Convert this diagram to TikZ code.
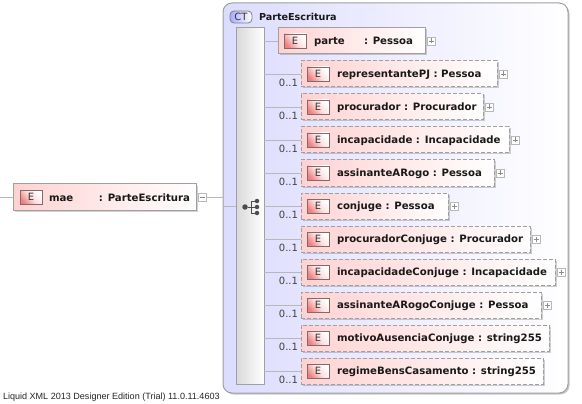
\documentclass[tikz,border=0pt]{standalone}
\usepackage{fontspec}
\setmainfont{DejaVu Sans}
\newfontfamily\footfont{Liberation Sans}
\usetikzlibrary{positioning,shadows}
\definecolor{boxPink}{HTML}{FFD2D2}
\definecolor{boxEdge}{HTML}{A0A0A0}
\definecolor{badgeRed}{HTML}{F08080}
\definecolor{badgeEdge}{HTML}{806A6A}
\definecolor{ctBlue}{HTML}{DCDCFF}
\definecolor{lineGrey}{HTML}{B8B8B8}
\begin{document}
\begin{tikzpicture}[x=1pt,y=-1pt,inner sep=0pt,outer sep=0pt,
elem/.style={draw=boxEdge,line width=1pt,left color=boxPink,right color=white,minimum height=26pt,anchor=north west,drop shadow={shadow xshift=1.5pt,shadow yshift=-1.5pt,fill=black,opacity=.18}},
optbox/.style={elem,dashed,dash pattern=on 4pt off 2pt},
badge/.style={draw=badgeEdge,line width=.9pt,top color=white,bottom color=badgeRed,middle color=badgeRed!25,shading angle=-50,minimum width=22pt,minimum height=14pt,font=\fontsize{10}{10}\selectfont,text=black!80},
elemtext/.style={font=\bfseries\fontsize{10.15}{12}\selectfont,text=black!90,anchor=west,yshift=-1pt},
mult/.style={font=\fontsize{10}{10}\selectfont,text=black!75,anchor=south east},
conn/.style={draw=lineGrey,line width=.8pt},
toggle/.style={draw=lineGrey,line width=.8pt,fill=white,minimum width=8pt,minimum height=8pt,right=2.5pt of #1.east},
plusbox/.style={toggle=#1,path picture={\draw[black!45,line width=.7pt] ([xshift=-2.5pt]path picture bounding box.center)--([xshift=2.5pt]path picture bounding box.center) ([yshift=-2.5pt]path picture bounding box.center)--([yshift=2.5pt]path picture bounding box.center);}},
minusbox/.style={toggle=#1,path picture={\draw[black!45,line width=.7pt] ([xshift=-2.5pt]path picture bounding box.center)--([xshift=2.5pt]path picture bounding box.center);}},
dot/.style={circle,fill=black!70,minimum size=4.5pt}]
\useasboundingbox (0,0) rectangle (582,404);
% complex type frame
\node[draw=boxEdge,line width=1pt,rounded corners=9pt,left color=ctBlue,right color=white,minimum width=345pt,minimum height=390pt,anchor=north west,drop shadow={shadow xshift=1.5pt,shadow yshift=-1.5pt,fill=black,opacity=.22}] (ct) at (223,3) {};
\node[draw=black!50,line width=.8pt,rounded corners=4pt,left color=ctBlue!30!blue!45,right color=white,minimum width=22pt,minimum height=12pt,font=\fontsize{10}{10}\selectfont,text=black!80] (ctBadge) at (241,17) {CT};
\node[elemtext,font=\bfseries\fontsize{9.6}{12}\selectfont,yshift=1pt] (ctName) at (259,17) {ParteEscritura};
\node[draw=boxEdge,line width=1pt,left color=black!15,right color=white,minimum width=28pt,minimum height=356pt,anchor=north west,drop shadow={shadow xshift=1pt,shadow yshift=-1pt,fill=black,opacity=.2}] (spine) at (236,28) {};
% root element
\node[elem,minimum width=183pt] (mae) at (13,184) {};
\node[badge,right=7pt of mae.west] (maeE) {E};
\node[elemtext,right=7pt of maeE] (maeName) {\makebox[50pt][l]{mae}: ParteEscritura};
\node[minusbox=mae] (maeToggle) {};
% child elements
\node[elem,minimum width=147pt] (parte) at (278,28) {};
\node[optbox,minimum width=196pt] (rep) at (301,61) {};
\node[optbox,minimum width=182pt,below right=7pt and 0pt of rep.south west] (proc) {};
\node[optbox,minimum width=208pt,below right=7pt and 0pt of proc.south west] (incap) {};
\node[optbox,minimum width=193pt,below right=7pt and 0pt of incap.south west] (rogo) {};
\node[optbox,minimum width=147pt,below right=7pt and 0pt of rogo.south west] (conj) {};
\node[optbox,minimum width=229pt,below right=7pt and 0pt of conj.south west] (procConj) {};
\node[optbox,minimum width=254pt,below right=7pt and 0pt of procConj.south west] (incapConj) {};
\node[optbox,minimum width=240pt,below right=7pt and 0pt of incapConj.south west] (rogoConj) {};
\node[optbox,minimum width=248pt,below right=7pt and 0pt of rogoConj.south west] (motivo) {};
\node[optbox,minimum width=242pt,below right=7pt and 0pt of motivo.south west] (regime) {};
% badges and names
\node[badge,right=6pt of parte.west] (parteE) {E};
\node[elemtext,right=8pt of parteE] (parteName) {\makebox[50pt][l]{parte}: Pessoa};
\node[badge,right=6pt of rep.west] (repE) {E};
\node[elemtext,right=8pt of repE] (repName) {representantePJ : Pessoa};
\node[badge,right=6pt of proc.west] (procE) {E};
\node[elemtext,right=8pt of procE] (procName) {procurador : Procurador};
\node[badge,right=6pt of incap.west] (incapE) {E};
\node[elemtext,right=8pt of incapE] (incapName) {incapacidade : Incapacidade};
\node[badge,right=6pt of rogo.west] (rogoE) {E};
\node[elemtext,right=8pt of rogoE] (rogoName) {assinanteARogo : Pessoa};
\node[badge,right=6pt of conj.west] (conjE) {E};
\node[elemtext,right=8pt of conjE] (conjName) {conjuge : Pessoa};
\node[badge,right=6pt of procConj.west] (procConjE) {E};
\node[elemtext,right=8pt of procConjE] (procConjName) {procuradorConjuge : Procurador};
\node[badge,right=6pt of incapConj.west] (incapConjE) {E};
\node[elemtext,right=8pt of incapConjE] (incapConjName) {incapacidadeConjuge : Incapacidade};
\node[badge,right=6pt of rogoConj.west] (rogoConjE) {E};
\node[elemtext,right=8pt of rogoConjE] (rogoConjName) {assinanteARogoConjuge : Pessoa};
\node[badge,right=6pt of motivo.west] (motivoE) {E};
\node[elemtext,right=8pt of motivoE] (motivoName) {motivoAusenciaConjuge : string255};
\node[badge,right=6pt of regime.west] (regimeE) {E};
\node[elemtext,right=8pt of regimeE] (regimeName) {regimeBensCasamento : string255};
% expand boxes
\node[plusbox=parte] (parteToggle) {};
\node[plusbox=rep] (repToggle) {};
\node[plusbox=proc] (procToggle) {};
\node[plusbox=incap] (incapToggle) {};
\node[plusbox=rogo] (rogoToggle) {};
\node[plusbox=conj] (conjToggle) {};
\node[plusbox=procConj] (procConjToggle) {};
\node[plusbox=incapConj] (incapConjToggle) {};
\node[plusbox=rogoConj] (rogoConjToggle) {};
% occurrence labels
\node[mult] (repMult) at ([xshift=-3pt,yshift=.5pt]rep.south west) {0..1};
\node[mult] (procMult) at ([xshift=-3pt,yshift=.5pt]proc.south west) {0..1};
\node[mult] (incapMult) at ([xshift=-3pt,yshift=.5pt]incap.south west) {0..1};
\node[mult] (rogoMult) at ([xshift=-3pt,yshift=.5pt]rogo.south west) {0..1};
\node[mult] (conjMult) at ([xshift=-3pt,yshift=.5pt]conj.south west) {0..1};
\node[mult] (procConjMult) at ([xshift=-3pt,yshift=.5pt]procConj.south west) {0..1};
\node[mult] (incapConjMult) at ([xshift=-3pt,yshift=.5pt]incapConj.south west) {0..1};
\node[mult] (rogoConjMult) at ([xshift=-3pt,yshift=.5pt]rogoConj.south west) {0..1};
\node[mult] (motivoMult) at ([xshift=-3pt,yshift=.5pt]motivo.south west) {0..1};
\node[mult] (regimeMult) at ([xshift=-3pt,yshift=.5pt]regime.south west) {0..1};
% connectors
\coordinate (inStub) at (0,197);
\draw[conn] (inStub)--(mae.west);
\draw[conn] (maeToggle.east)--(maeToggle.east -| ct.west);
\draw[conn] (ct.west |- conj.west)--(spine.west |- conj.west);
\draw[conn] (parte.west -| spine.east)--(parte.west);
\draw[conn] (rep.west -| spine.east)--(rep.west);
\draw[conn] (proc.west -| spine.east)--(proc.west);
\draw[conn] (incap.west -| spine.east)--(incap.west);
\draw[conn] (rogo.west -| spine.east)--(rogo.west);
\draw[conn] (conj.west -| spine.east)--(conj.west);
\draw[conn] (procConj.west -| spine.east)--(procConj.west);
\draw[conn] (incapConj.west -| spine.east)--(incapConj.west);
\draw[conn] (rogoConj.west -| spine.east)--(rogoConj.west);
\draw[conn] (motivo.west -| spine.east)--(motivo.west);
\draw[conn] (regime.west -| spine.east)--(regime.west);
% sequence icon
\node[dot,minimum size=5.5pt] (seqIn) at (245,207) {};
\node[dot] (seqA) at (257,201) {};
\node[dot] (seqB) at (257,207) {};
\node[dot] (seqC) at (257,213) {};
\coordinate (seqJoin) at (251,207);
\draw[black!70,line width=1pt] (seqIn)--(seqB) (seqA)-|(seqJoin) (seqC)-|(seqJoin);
% footer
\node[font=\footfont\fontsize{9.05}{10}\selectfont,text=black!85,anchor=west] (footer) at (3,397) {Liquid XML 2013 Designer Edition (Trial) 11.0.11.4603};
\end{tikzpicture}
\end{document}
